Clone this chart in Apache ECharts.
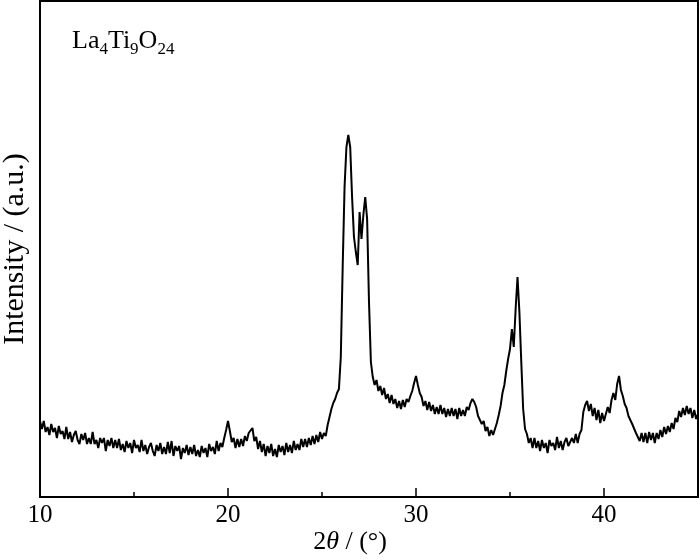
<!DOCTYPE html>
<html>
<head>
<meta charset="utf-8">
<script src="https://cdn.jsdelivr.net/npm/echarts@6/dist/echarts.min.js"></script>
<style>html,body{margin:0;padding:0;background:#fff}#c{width:700px;height:560px}</style>
</head>
<body>
<div id="c"></div>
<script>
// 2θ measurement grid: start, step (degrees)
const thetaStart = 10.0;
const thetaStep = 0.1;
// Intensity (a.u.), one value per 0.1° from 10.0° to 45.0°
const intensity = [
  76,68,76,65,70,62,73,65,69,59,71,
  63,66,58,70,58,65,55,62,66,57,
  53,63,57,64,53,59,53,65,53,57,
  49,59,54,59,46,57,51,59,49,57,
  49,58,47,53,45,56,49,54,44,57,
  49,52,45,57,46,52,43,50,54,46,
  41,52,46,54,43,50,43,55,44,56,
  41,51,46,51,38,49,44,52,42,50,
  43,52,41,47,40,51,44,49,40,53,
  46,50,43,56,46,54,50,59,67,76,
  66,55,59,49,58,50,58,51,61,56,
  64,66,69,56,60,48,56,45,53,41,
  51,44,53,41,48,40,52,45,51,42,
  54,45,52,44,56,47,53,47,58,50,
  58,50,59,52,61,53,62,55,65,58,
  64,61,72,80,88,94,98,104,108,140,
  230,310,350,362,350,300,260,245,232,285,
  258,282,300,278,195,135,120,112,117,106,
  111,102,109,98,103,94,102,93,98,89,
  96,88,97,90,98,95,101,106,114,121,
  112,104,100,91,96,87,95,86,92,83,
  90,83,92,83,89,80,88,81,89,81,
  88,78,89,81,87,81,90,87,94,98,
  95,90,81,83,73,76,66,70,61,67,
  62,68,74,82,91,104,112,126,138,148,
  168,150,188,220,185,135,88,68,63,54,
  59,49,59,49,56,46,57,49,54,44,
  57,51,54,47,60,49,56,47,55,59,
  51,49,59,54,63,54,63,67,85,92,
  96,86,93,81,89,77,87,74,84,76,
  83,90,84,97,104,97,113,121,107,101,
  93,89,81,80,73,71,64,65,56,64,
  55,64,54,65,57,64,54,64,58,67,
  60,70,63,71,65,74,68,79,75,86,
  80,89,82,91,83,89,79,87,78,83
];
const xTicks = [10, 20, 30, 40];
const sampleName = '{m|La}{s|4}{m|Ti}{s|9}{m|O}{s|24}';
const xName = '{n|2}{i|θ}{n| / (°)}';
const yName = 'Intensity / (a.u.)';

const seriesData = intensity.map((v, i) => [+(thetaStart + i * thetaStep).toFixed(2), v]);

const chart = echarts.init(document.getElementById('c'), null, {renderer: 'canvas'});
const serif = 'Liberation Serif, Times New Roman, serif';
chart.setOption({
  animation: false,
  backgroundColor: '#fff',
  grid: {left: 40, right: 2, top: 1, bottom: 63, show: true, borderColor: '#000', borderWidth: 2,
    containLabel: false, outerBoundsMode: 'none'},
  xAxis: {
    type: 'value', min: 10, max: 45, interval: 10,
    axisLine: {show: true, lineStyle: {color: '#000', width: 2}},
    axisTick: {show: true, inside: true, length: 9, lineStyle: {color: '#000', width: 1.5}},
    minorTick: {show: true, splitNumber: 2, length: 5, lineStyle: {color: '#000', width: 1.5}},
    splitLine: {show: false},
    axisLabel: {color: '#000', fontFamily: serif, fontSize: 25, margin: 6, showMaxLabel: false,
      formatter: v => xTicks.indexOf(v) >= 0 ? String(v) : ''}
  },
  yAxis: {
    type: 'value', min: 0, max: 496,
    name: yName, nameLocation: 'middle', nameGap: 10,
    nameTextStyle: {color: '#000', fontFamily: serif, fontSize: 30},
    axisLine: {show: true, lineStyle: {color: '#000', width: 2}},
    axisTick: {show: false}, axisLabel: {show: false}, splitLine: {show: false}
  },
  graphic: [
    {type: 'text', left: 72, top: 28, style: {text: sampleName, fill: '#000',
      rich: {
        m: {fontSize: 26, fontFamily: serif, fill: '#000', verticalAlign: 'top'},
        s: {fontSize: 17, fontFamily: serif, fill: '#000', verticalAlign: 'top', padding: [13, 0, 0, 0]}
      }}},
    {type: 'text', left: 'center', top: 529, x: -19, style: {text: xName, fill: '#000',
      rich: {
        n: {fontSize: 26, fontFamily: serif, fill: '#000'},
        i: {fontStyle: 'italic', fontSize: 26, fontFamily: serif, fill: '#000'}
      }}}
  ],
  series: [{
    type: 'line', data: seriesData, showSymbol: false, symbol: 'none',
    lineStyle: {color: '#000', width: 2}, clip: true
  }]
});
</script>
</body>
</html>
